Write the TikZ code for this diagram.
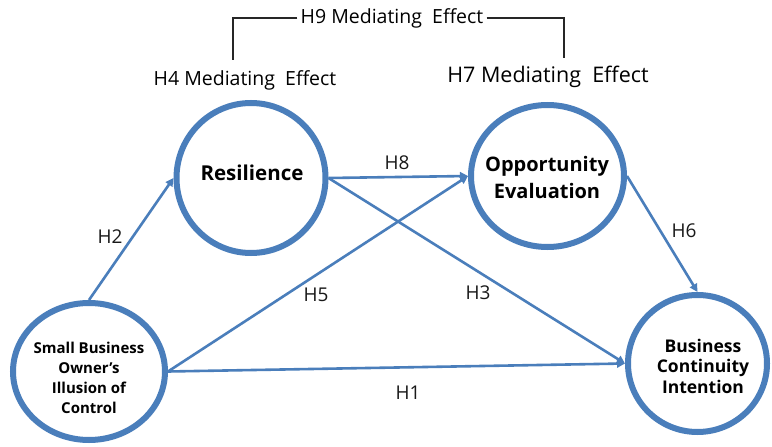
\documentclass[tikz,border=0pt]{standalone}
\usepackage{fontspec}
\setmainfont{Open Sans}
\usetikzlibrary{shapes.geometric,arrows.meta}
\definecolor{ringblue}{RGB}{74,126,187}
\begin{document}
\begin{tikzpicture}[x=1pt,y=-1pt,
  ring/.style={draw=ringblue,line width=6pt,ellipse,inner sep=0pt,fill=white},
  ntext/.style={align=center,inner sep=0pt,font=\bfseries},
  arr/.style={draw=ringblue,line width=2.6pt,-{Triangle[length=8pt,width=8pt]}},
  hlab/.style={inner sep=0pt,font=\fontsize{19}{22}\selectfont,text=black!90},
  toplab/.style={inner sep=3pt,font=\fontsize{19.5}{22}\selectfont,text=black},
  bracket/.style={draw=black!85,line width=1.2pt}]
\useasboundingbox (0,0) rectangle (772,447);
\fill[white] (0,0) rectangle (772,447);

% rings
\node[ring,minimum width=152pt,minimum height=137pt] (sb) at (89,371.5) {};
\node[ring,minimum width=149pt,minimum height=150pt] (res) at (251,178) {};
\node[ring,minimum width=153pt,minimum height=142pt] (opp) at (547.5,176) {};
\node[ring,minimum width=139pt,minimum height=137pt] (bci) at (697.5,363.5) {};

% connectors
\draw[arr] (sb.north) -- (res.west);
\draw[arr] (res.east) -- (opp.west);
\draw[arr] (res.east) -- (bci.west);
\draw[arr] (sb.east) -- (opp.west);
\draw[arr] (sb.east) -- (bci.west);
\draw[arr] (opp.east) -- (bci.north);

% ring texts
\node[ntext,font=\bfseries\fontsize{15}{20}\selectfont] (sbt) at (89,378) {Small Business\\Owner’s\\Illusion of\\Control};
\node[ntext,font=\bfseries\fontsize{20.5}{24}\selectfont] (rest) at (252,173) {Resilience};
\node[ntext,font=\bfseries\fontsize{20}{27}\selectfont] (oppt) at (547,177) {Opportunity\\Evaluation};
\node[ntext,font=\bfseries\fontsize{17.5}{20.5}\selectfont] (bcit) at (703,366) {Business\\Continuity\\Intention};

% path labels
\node[hlab] (h2) at (110,237) {H2};
\node[hlab] (h8) at (397,163) {H8};
\node[hlab] (h6) at (684,231) {H6};
\node[hlab] (h5) at (316,295) {H5};
\node[hlab] (h3) at (478,293) {H3};
\node[hlab] (h1) at (408,393) {H1};

% top labels
\node[toplab] (h9) at (392,18) {H9 Mediating\ \ Effect};
\node[toplab] (h4) at (245,80) {H4 Mediating\ \ Effect};
\node[toplab,font=\fontsize{21.5}{24}\selectfont] (h7) at (548,77) {H7 Mediating\ \ Effect};
\coordinate (b4) at (233,60);
\coordinate (b7) at (564,58);
\draw[bracket] (h9.west) -| (b4);
\draw[bracket] (h9.east) -| (b7);
\end{tikzpicture}
\end{document}
